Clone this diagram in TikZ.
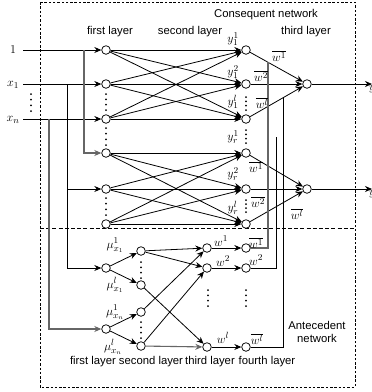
\documentclass[tikz,border=0pt]{standalone}
\usepackage[no-math]{fontspec}
\setmainfont{Liberation Sans}
\usetikzlibrary{arrows.meta,calc}
\tikzset{
 neuron/.style={circle,draw,fill=white,minimum size=8.6pt,inner sep=0pt,line width=0.75pt},
 wire/.style={line width=0.8pt},
 arr/.style={wire,-{Stealth[length=7pt,width=6pt]}},
 lbl/.style={inner sep=0pt,font=\fontsize{11.3}{13}\selectfont},
 mlbl/.style={inner sep=0pt,font=\fontsize{12.5}{14}\selectfont},
 gwire/.style={line width=1.1pt,draw=black!60},
 garr/.style={gwire,-{Stealth[length=7pt,width=6pt]}},
 boxline/.style={line width=0.6pt,dash pattern=on 2.5pt off 1.8pt},
}
\newcommand\mydots[3]{\foreach \k in {0,1,2,3}{\fill ({#1},{#2+\k*(#3-#2)/3}) circle (1pt);}}
\begin{document}
\begin{tikzpicture}[x=1pt,y=-1pt]
\useasboundingbox (0,0) rectangle (372,392);
% boxes
\draw[boxline] (40,2) rectangle (355,387);
\draw[line width=0.6pt,dash pattern=on 4pt off 2.2pt] (40,228) -- (355,228);
% consequent nodes
\node[neuron] (c1a) at (106,50) {};
\node[neuron] (c1b) at (106,84) {};
\node[neuron] (c1c) at (106,119) {};
\node[neuron] (c1d) at (106,153) {};
\node[neuron] (c1e) at (106,189) {};
\node[neuron] (c1f) at (106,224) {};
\node[neuron] (c2a) at (246,50) {};
\node[neuron] (c2b) at (246,84) {};
\node[neuron] (c2c) at (246,119) {};
\node[neuron] (c2d) at (246,153) {};
\node[neuron] (c2e) at (246,189) {};
\node[neuron] (c2f) at (246,224) {};
\node[neuron] (c3a) at (307,84) {};
\node[neuron] (c3b) at (307,189) {};
% antecedent nodes
\node[neuron] (a1a) at (106,268) {};
\node[neuron] (a1b) at (106,329) {};
\node[neuron] (a2a) at (141,251) {};
\node[neuron] (a2b) at (141,285) {};
\node[neuron] (a2c) at (141,312) {};
\node[neuron] (a2d) at (141,346) {};
\node[neuron] (a3a) at (207,248) {};
\node[neuron] (a3b) at (207,268) {};
\node[neuron] (a3c) at (207,347) {};
\node[neuron] (a4a) at (246,248) {};
\node[neuron] (a4b) at (246,268) {};
\node[neuron] (a4c) at (246,347) {};
% inputs
\node[mlbl] (in1) at (13,50) {$1$};
\node[mlbl] (inx1) at (13,85) {$x_1$};
\node[mlbl] (inxn) at (13,120) {$x_n$};
\coordinate (s1) at (23,50);
\coordinate (sx1) at (23,84);
\coordinate (sxn) at (23,119);
\coordinate (j1) at (84,50);
\coordinate (j2) at (67,84);
\coordinate (j3) at (49,119);
\draw[arr] (s1) -- (c1a);
\draw[arr] (sx1) -- (c1b);
\draw[arr] (sxn) -- (c1c);
\draw[garr] (j1) |- (c1d);
\draw[arr] (j2) |- (a1a);
\draw[arr] (j2 |- c1e) -- (c1e);
\draw[garr] (j3) |- (a1b);
\mydots{31}{94}{111}
% consequent bipartite
\foreach \s in {c1a,c1b,c1c}{\foreach \t in {c2a,c2b,c2c}{\draw[arr] (\s) -- (\t);}}
\foreach \s in {c1d,c1e,c1f}{\foreach \t in {c2d,c2e,c2f}{\draw[arr] (\s) -- (\t);}}
\foreach \s in {c2a,c2b,c2c}{\draw[arr] (\s) -- (c3a);}
\foreach \s in {c2d,c2e,c2f}{\draw[arr] (\s) -- (c3b);}
\coordinate (o1) at (372,84);
\coordinate (o2) at (372,189);
\draw[arr] (c3a) -- (o1);
\draw[arr] (c3b) -- (o2);
\node[mlbl,anchor=west] (y1) at (369,89) {$y$};
\node[mlbl,anchor=west] (y2) at (369,194) {$y$};
% normalized weights to consequent
\draw[gwire] (a4a) -| ($(c2a.center)!0.36!(c3a.center)$);
\draw[wire] (a4b) -| ($(c2b.center)!0.5!(c3b.center)$);
\draw[wire] (a4c) -| ($(c2c.center)!0.62!(c3a.center)$);
% antecedent connections
\draw[arr] (a1a) -- (a2a);
\draw[arr] (a1a) -- (a2b);
\draw[arr] (a1b) -- (a2c);
\draw[arr] (a1b) -- (a2d);
\draw[arr] (a2a) -- (a3a);
\draw[arr] (a2a) -- (a3b);
\draw[arr] (a2b) -- (a3c);
\draw[arr] (a2c) -- (a3a);
\draw[arr] (a2d) -- (a3b);
\draw[garr] (a2d) -- (a3c);
\draw[arr] (a3a) -- (a4a);
\draw[arr] (a3b) -- (a4b);
\draw[arr] (a3c) -- (a4c);
% dots
\mydots{106}{94}{110}
\mydots{106}{128}{145}
\mydots{106}{198}{215}
\mydots{246}{97}{110}
\mydots{246}{130}{143}
\mydots{246}{200}{212}
\mydots{141}{262}{278}
\mydots{141}{322}{338}
\mydots{208}{290}{306}
\mydots{246}{290}{306}
% labels consequent
\node[lbl] (tc) at (266,15) {Consequent network};
\node[lbl] (tl1) at (110,32) {first layer};
\node[lbl] (tl2) at (190,32) {second layer};
\node[lbl] (tl3) at (306,32) {third layer};
\node[mlbl] (ly11) at (233,39) {$y_1^1$};
\node[mlbl] (ly12) at (233,72) {$y_1^2$};
\node[mlbl] (ly1l) at (233,102) {$y_1^l$};
\node[mlbl] (lyr1) at (233,137) {$y_r^1$};
\node[mlbl] (lyr2) at (233,174) {$y_r^2$};
\node[mlbl] (lyrl) at (233,208) {$y_r^l$};
\node[mlbl] (lw1a) at (279,56) {$\overline{w^1}$};
\node[mlbl] (lw2a) at (261,76) {$\overline{w^2}$};
\node[mlbl] (lwla) at (262,103) {$\overline{w^l}$};
\node[mlbl] (lw1b) at (256,167) {$\overline{w^1}$};
\node[mlbl] (lw2b) at (258,202) {$\overline{w^2}$};
\node[mlbl] (lwlb) at (297,214) {$\overline{w^l}$};
% labels antecedent
\node[mlbl] (m11) at (115,245) {$\mu^1_{x_1}$};
\node[mlbl] (m1l) at (115,285) {$\mu^l_{x_1}$};
\node[mlbl] (mn1) at (115,312) {$\mu^1_{x_n}$};
\node[mlbl] (mnl) at (113,347) {$\mu^l_{x_n}$};
\node[mlbl] (w1) at (221,241) {$w^1$};
\node[mlbl] (w2) at (223,261) {$w^2$};
\node[mlbl] (wl) at (223,338) {$w^l$};
\node[mlbl] (wb1) at (256,243) {$\overline{w^1}$};
\node[mlbl] (wb2) at (256,260) {$w^2$};
\node[mlbl] (wbl) at (257,339) {$\overline{w^l}$};
\node[lbl,align=center] (tan) at (317,332) {Antecedent\\network};
\node[lbl] (bl1) at (93,362) {first layer};
\node[lbl] (bl2) at (151,362) {second layer};
\node[lbl] (bl3) at (210,362) {third layer};
\node[lbl] (bl4) at (267,362) {fourth layer};
\end{tikzpicture}
\end{document}
